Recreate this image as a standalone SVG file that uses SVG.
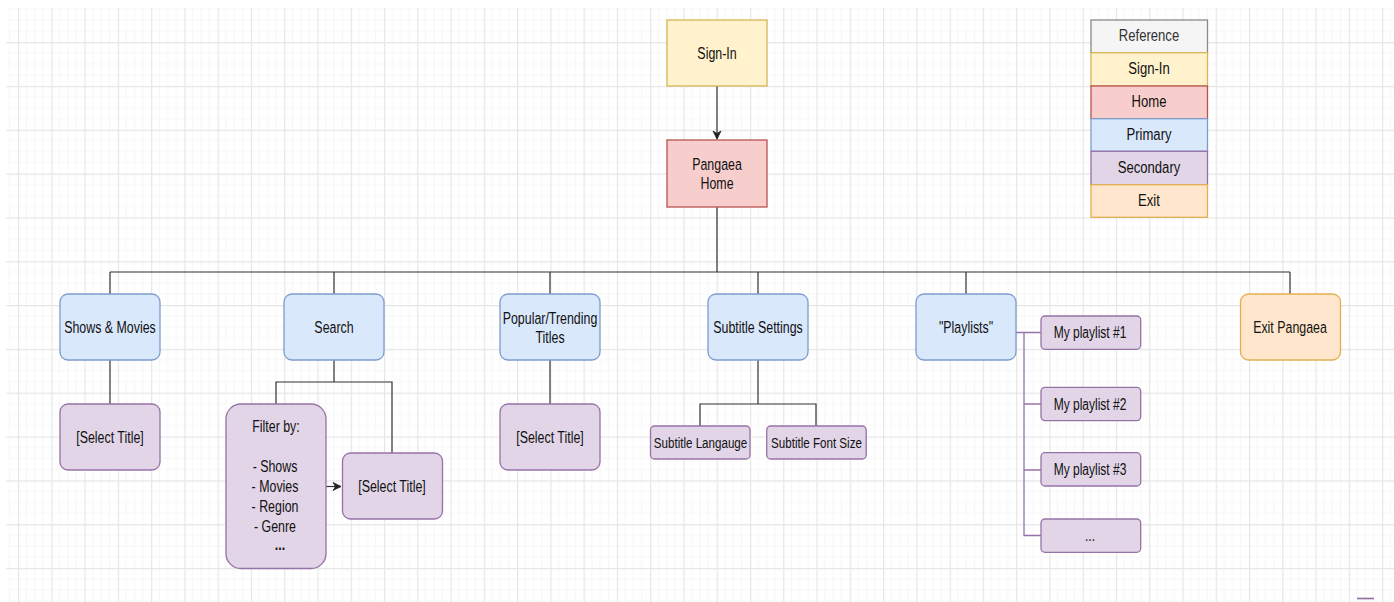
<svg xmlns="http://www.w3.org/2000/svg" width="1394" height="602" viewBox="0 0 1394 602">
<defs>
<pattern id="grid" patternUnits="userSpaceOnUse" x="18" y="42" width="33.27" height="43.83">
<rect width="33.27" height="43.83" fill="#ffffff"/>
<path d="M8.32,0V43.83M16.64,0V43.83M24.95,0V43.83M0,10.96H33.27M0,21.92H33.27M0,32.87H33.27" stroke="#f7f7f7" stroke-width="1" fill="none"/>
<path d="M0.5,0V43.83M0,0.5H33.27" stroke="#e6e6e6" stroke-width="1.3" fill="none"/>
</pattern>
<marker id="arr" markerUnits="userSpaceOnUse" markerWidth="10" markerHeight="10" refX="9" refY="5" orient="auto">
<path d="M1,1 L9,5 L1,9 L3.5,5 Z" fill="#222" stroke="#222" stroke-width="0.8"/>
</marker>
<style>
.t{font-family:"Liberation Sans",Arial,sans-serif;font-size:12.4px;fill:#111;text-anchor:middle}
.lg{font-size:13.1px}
.sm{font-size:11.6px}
.pl{font-size:12px}
.signin{fill:#fff2cc;stroke:#d6b656;stroke-width:1.3}
.home{fill:#f8cecc;stroke:#b85450;stroke-width:1.3}
.prim{fill:#dae8fc;stroke:#7e9ccb;stroke-width:1.3}
.sec{fill:#e1d5e7;stroke:#9673a6;stroke-width:1.3}
.exit{fill:#ffe6cc;stroke:#e0b050;stroke-width:1.3}
.ref{fill:#f5f5f5;stroke:#8a8a8a;stroke-width:1.3}
.c{fill:none;stroke:#333;stroke-width:1.2}
.cp{fill:none;stroke:#9673a6;stroke-width:1.3}
</style>
</defs>
<rect width="1394" height="602" fill="#ffffff"/>
<rect x="6" y="8" width="1388" height="594" fill="url(#grid)"/>

<g id="connectors">
<path class="c" d="M717,86V139" marker-end="url(#arr)"/>
<path class="c" d="M717,207V272M110,272H1290M110,272V294M334,272V294M550,272V294M758,272V294M966,272V294M1290,272V294"/>
<path class="c" d="M110,360V404"/>
<path class="c" d="M334,360V382M276,404V382H392V453"/>
<path class="c" d="M326,486.5H341" marker-end="url(#arr)"/>
<path class="c" d="M550,360V404"/>
<path class="c" d="M758,360V404M700,426V404H816V426"/>
<path class="cp" d="M1016,332.5H1041M1024,332.5V535.5H1041M1024,404H1041M1024,470H1041"/>
</g>

<g id="sign-in"><rect class="signin" x="667" y="20" width="100" height="66"/><text class="t" transform="translate(717,58.8) scale(1,1.317)">Sign-In</text></g>
<g id="home"><rect class="home" x="667" y="140" width="100" height="67"/><text class="t" transform="translate(717,169.5) scale(1,1.317)">Pangaea</text><text class="t" transform="translate(717,189) scale(1,1.317)">Home</text></g>

<g id="shows-movies"><rect class="prim" x="60" y="294" width="100" height="66" rx="8"/><text class="t" transform="translate(110,332.7) scale(1,1.317)">Shows &amp; Movies</text></g>
<g id="search"><rect class="prim" x="284" y="294" width="100" height="66" rx="8"/><text class="t" transform="translate(334,332.7) scale(1,1.317)">Search</text></g>
<g id="popular"><rect class="prim" x="500" y="294" width="100" height="66" rx="8"/><text class="t" transform="translate(550,323.7) scale(1,1.317)">Popular/Trending</text><text class="t" transform="translate(550,342.7) scale(1,1.317)">Titles</text></g>
<g id="subtitle-settings"><rect class="prim" x="708" y="294" width="100" height="66" rx="8"/><text class="t" transform="translate(758,332.7) scale(1,1.317)">Subtitle Settings</text></g>
<g id="playlists"><rect class="prim" x="916" y="294" width="100" height="66" rx="8"/><text class="t" transform="translate(966,332.7) scale(1,1.317)">"Playlists"</text></g>
<g id="exit"><rect class="exit" x="1240.5" y="294" width="100" height="66" rx="8"/><text class="t" transform="translate(1290,332.7) scale(1,1.317)">Exit Pangaea</text></g>

<g id="select-title-1"><rect class="sec" x="60" y="404" width="100" height="66" rx="8"/><text class="t" transform="translate(110,442.7) scale(1,1.317)">[Select Title]</text></g>
<g id="filter"><rect class="sec" x="226" y="404" width="100" height="164.5" rx="15"/>
<text class="t" transform="translate(276,432.4) scale(1,1.317)">Filter by:</text>
<text class="t" transform="translate(275,472.4) scale(1,1.317)">- Shows</text>
<text class="t" transform="translate(275,491.8) scale(1,1.317)">- Movies</text>
<text class="t" transform="translate(275,512.3) scale(1,1.317)">- Region</text>
<text class="t" transform="translate(275,531.7) scale(1,1.317)">- Genre</text>
<text class="t" transform="translate(280,550) scale(1,1.317)" font-weight="bold">...</text></g>
<g id="select-title-2"><rect class="sec" x="342.5" y="453" width="100" height="66" rx="8"/><text class="t" transform="translate(392,491.8) scale(1,1.317)">[Select Title]</text></g>
<g id="select-title-3"><rect class="sec" x="500" y="404" width="100" height="66" rx="8"/><text class="t" transform="translate(550,442.7) scale(1,1.317)">[Select Title]</text></g>
<g id="subtitle-language"><rect class="sec" x="650.5" y="426" width="99.5" height="33" rx="4"/><text class="t sm" transform="translate(700.5,448) scale(1,1.317)">Subtitle Langauge</text></g>
<g id="subtitle-font-size"><rect class="sec" x="766.7" y="426" width="99.5" height="33" rx="4"/><text class="t sm" transform="translate(816.5,448) scale(1,1.317)">Subtitle Font Size</text></g>

<g id="playlist-1"><rect class="sec" x="1041" y="316" width="99.7" height="33.3" rx="4"/><text class="t pl" transform="translate(1090,338.2) scale(1,1.317)">My playlist #1</text></g>
<g id="playlist-2"><rect class="sec" x="1041" y="387.3" width="99.7" height="33.3" rx="4"/><text class="t pl" transform="translate(1090,409.5) scale(1,1.317)">My playlist #2</text></g>
<g id="playlist-3"><rect class="sec" x="1041" y="452.7" width="99.7" height="33.3" rx="4"/><text class="t pl" transform="translate(1090,475) scale(1,1.317)">My playlist #3</text></g>
<g id="playlist-more"><rect class="sec" x="1041" y="519" width="99.7" height="33.3" rx="4"/><text class="t pl" transform="translate(1090,541) scale(1,1.317)">...</text></g>

<g id="legend">
<rect class="ref" x="1091" y="20" width="116.5" height="32.7"/><text class="t lg" transform="translate(1149,41) scale(1,1.317)" style="fill:#333">Reference</text>
<rect class="signin" x="1091" y="52.7" width="116.5" height="33.3"/><text class="t lg" transform="translate(1149,74.3) scale(1,1.317)">Sign-In</text>
<rect class="home" x="1091" y="86" width="116.5" height="32.7"/><text class="t lg" transform="translate(1149,106.5) scale(1,1.317)">Home</text>
<rect class="prim" x="1091" y="118.7" width="116.5" height="32.6"/><text class="t lg" transform="translate(1149,140) scale(1,1.317)">Primary</text>
<rect class="sec" x="1091" y="151.3" width="116.5" height="33.4"/><text class="t lg" transform="translate(1149,172.5) scale(1,1.317)">Secondary</text>
<rect class="exit" x="1091" y="184.7" width="116.5" height="32.6"/><text class="t lg" transform="translate(1149,205.5) scale(1,1.317)">Exit</text>
</g>
<path d="M1357,598.5H1374" stroke="#9673a6" stroke-width="1.7" fill="none"/>
</svg>
